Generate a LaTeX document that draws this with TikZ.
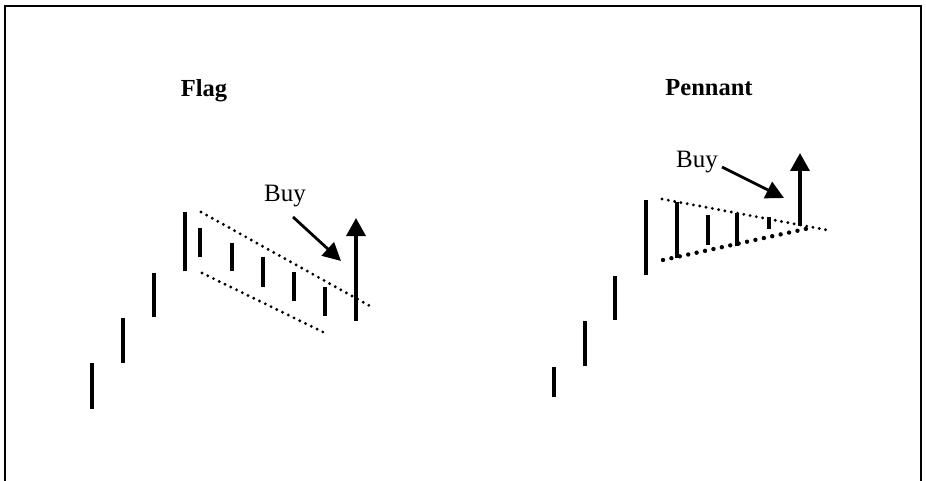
\documentclass[tikz,border=0pt]{standalone}
\usepackage{fontspec}
\setmainfont{Liberation Serif}
\usetikzlibrary{arrows.meta}

\tikzset{
    bar/.style={line width=3.2pt},
    dotline/.style={line width=3.2pt, line cap=round, dash pattern=on 0pt off 6.4pt},
    bigdots/.style={line width=4.4pt, line cap=round, dash pattern=on 0pt off 8.6pt},
    uparrow/.style={line width=3.4pt, -{Triangle[length=18pt,width=19pt]}},
    buyarrow/.style={line width=2.8pt, -{Triangle[length=18pt,width=18pt]}},
    title/.style={font=\bfseries\fontsize{24.5}{26}\selectfont, inner sep=0pt, anchor=base},
    buytext/.style={font=\fontsize{25}{27}\selectfont, inner sep=0pt, anchor=base}
}

\begin{document}
\begin{tikzpicture}[x=1pt,y=-1pt]
        \useasboundingbox (0,0) rectangle (926,481);
        % frame, open at the bottom
        \draw[line width=1.8pt] (5,481) -- (5,6) -- (921,6) -- (921,481);

        % flag
        \node[title] (flagtitle) at (204,97) {Flag};
        \draw[bar] (92,363) -- (92,409);
        \draw[bar] (123,318) -- (123,363);
        \draw[bar] (154,273) -- (154,317);
        \draw[bar] (185,212) -- (185,271);
        \draw[bar] (200,228) -- (200,257);
        \draw[bar] (232,243) -- (232,271);
        \draw[bar] (263,257) -- (263,287);
        \draw[bar] (294,272) -- (294,301);
        \draw[bar] (325,287) -- (325,316);
        \draw[dotline] (201,212) -- (370,306);
        \draw[dotline] (202,273) -- (325,333);
        \coordinate (flagbreak) at (356,321);
        \coordinate (flagtarget) at (356,218);
        \draw[uparrow] (flagbreak) -- (flagtarget);
        \node[buytext] (flagbuy) at (285,202) {Buy};
        \coordinate (flagbuyfrom) at (293,217);
        \coordinate (flagbuyto) at (341,261);
        \draw[buyarrow] (flagbuyfrom) -- (flagbuyto);

        % pennant
        \node[title] (pennanttitle) at (709,96) {Pennant};
        \draw[bar] (554,367) -- (554,397);
        \draw[bar] (585,321) -- (585,366);
        \draw[bar] (615,276) -- (615,320);
        \draw[bar] (646,200) -- (646,275);
        \draw[bar] (677,202) -- (677,258);
        \draw[bar] (708,215) -- (708,245);
        \draw[bar] (737,213) -- (737,246);
        \draw[bar] (769,217) -- (769,229);
        \draw[dotline] (662,199) -- (827,230);
        \draw[bigdots] (663,260) -- (810,228);
        \coordinate (pennantbreak) at (800,226);
        \coordinate (pennanttarget) at (800,153);
        \draw[uparrow] (pennantbreak) -- (pennanttarget);
        \node[buytext] (pennantbuy) at (697,168) {Buy};
        \coordinate (pennantbuyfrom) at (722,167);
        \coordinate (pennantbuyto) at (784,198);
        \draw[buyarrow] (pennantbuyfrom) -- (pennantbuyto);
    \end{tikzpicture}
\end{document}
